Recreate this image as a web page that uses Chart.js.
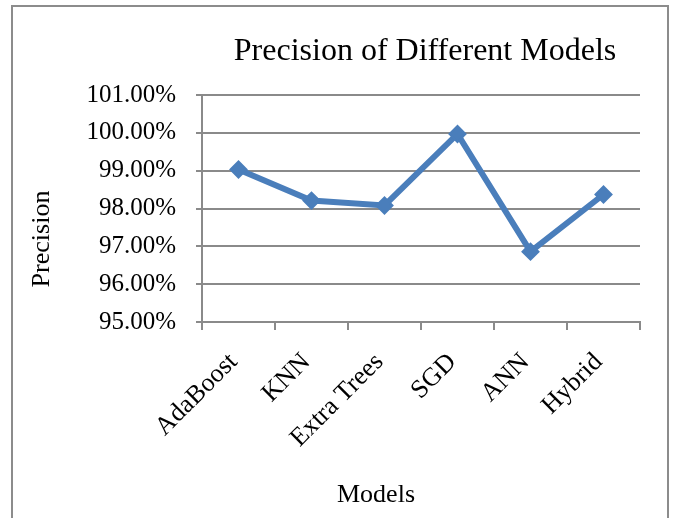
<!DOCTYPE html>
<html>
<head>
<meta charset="utf-8">
<script src="https://cdn.jsdelivr.net/npm/chart.js@4"></script>
<style>
  html, body { margin: 0; padding: 0; background: #fff; }
  #wrap { position: relative; width: 674px; height: 518px; overflow: hidden; }
  #frame { position: absolute; left: 11px; top: 5px; width: 654px; height: 540px; border: 2px solid #8c8c8c; }
  #chart { position: absolute; left: 0; top: 0; }
</style>
</head>
<body>
<div id="wrap">
  <div id="frame"></div>
  <canvas id="chart" width="674" height="518"></canvas>
</div>
<script>
// ── data ──
const models = ['AdaBoost', 'KNN', 'Extra Trees', 'SGD', 'ANN', 'Hybrid'];
const precision = [99.03, 98.21, 98.08, 99.97, 96.86, 98.37];
const yMin = 95, yMax = 101, yStep = 1;

const serif = '"Liberation Serif", "Times New Roman", serif';
const axisGray = '#8a8a8a';
const lineBlue = '#4A7EBB';

// title and axis titles sit where Excel put them, not centred on the canvas/axes
const chartTexts = {
  id: 'chartTexts',
  afterDraw(chart) {
    const ctx = chart.ctx;
    const area = chart.chartArea;
    ctx.save();
    ctx.fillStyle = '#000';
    ctx.textAlign = 'center';
    ctx.textBaseline = 'middle';
    ctx.font = '32px ' + serif;
    ctx.fillText('Precision of Different Models', (area.left + area.right) / 2 + 4, 52);
    ctx.font = '26px ' + serif;
    ctx.fillText('Models', 376, 495);
    ctx.translate(42, 239);
    ctx.rotate(-Math.PI / 2);
    ctx.fillText('Precision', 0, 0);
    ctx.restore();
  }
};

new Chart(document.getElementById('chart'), {
  type: 'line',
  data: {
    labels: models,
    datasets: [{
      label: 'Precision',
      data: precision,
      borderColor: lineBlue,
      backgroundColor: lineBlue,
      borderWidth: 6,
      pointStyle: 'rectRot',
      pointRadius: 8,
      pointBorderWidth: 2,
      pointBackgroundColor: lineBlue,
      pointBorderColor: lineBlue,
      tension: 0
    }]
  },
  options: {
    responsive: false,
    animation: false,
    devicePixelRatio: 1,
    layout: { padding: { left: 12, right: 34, top: 95, bottom: 0 } },
    plugins: {
      legend: { display: false },
      tooltip: { enabled: false },
      title: { display: false }
    },
    scales: {
      x: {
        offset: true,
        grid: { offset: true, drawOnChartArea: false, drawTicks: true, tickLength: 8, color: axisGray, lineWidth: 2 },
        border: { display: true, color: axisGray, width: 2 },
        ticks: { color: '#000', font: { family: serif, size: 26 }, minRotation: 45, maxRotation: 45, padding: 17, labelOffset: -5, autoSkip: false },
        afterFit: (scale) => { scale.height = 196; }
      },
      y: {
        min: yMin,
        max: yMax,
        grid: { color: axisGray, lineWidth: 2, tickLength: 6 },
        border: { display: true, color: axisGray, width: 2 },
        ticks: {
          stepSize: yStep,
          color: '#000',
          font: { family: serif, size: 25 },
          padding: 20,
          callback: (v) => v.toFixed(2) + '%'
        },
        afterFit: (scale) => { scale.width = 190; }
      }
    }
  },
  plugins: [chartTexts]
});
</script>
</body>
</html>
